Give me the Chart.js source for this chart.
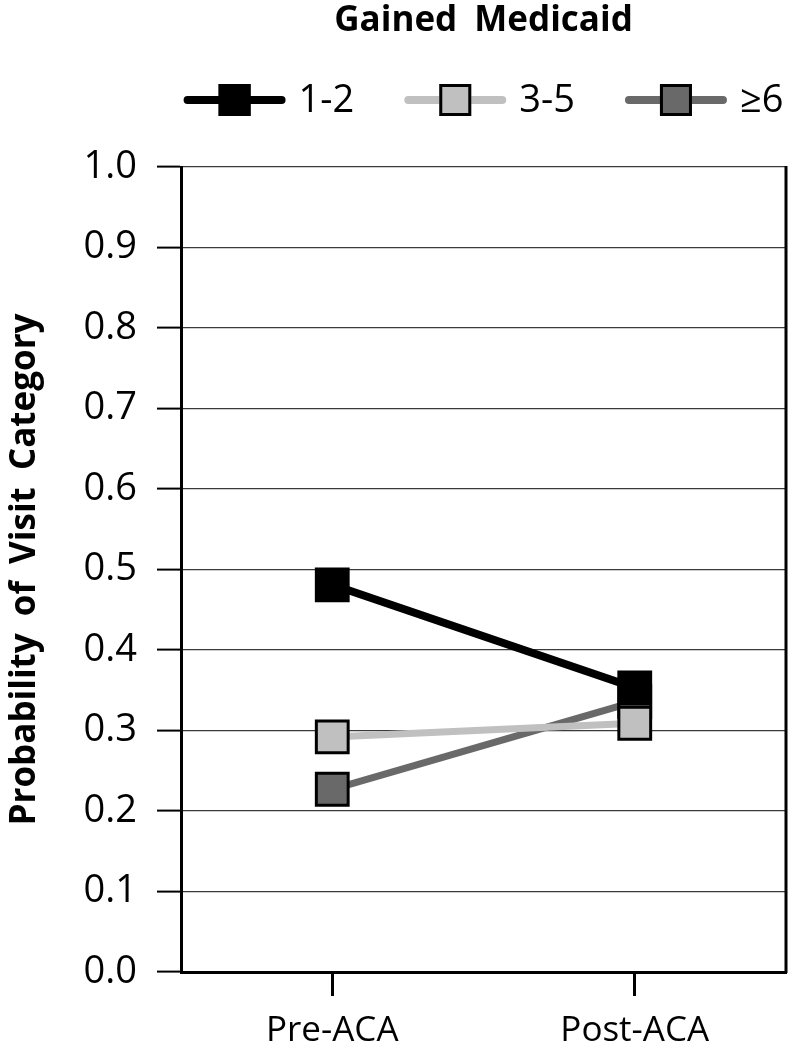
<!DOCTYPE html>
<html>
<head>
<meta charset="utf-8">
<script src="https://cdn.jsdelivr.net/npm/chart.js@4.4.1/dist/chart.umd.min.js"></script>
<style>
html,body{margin:0;padding:0;background:#fff;}
#wrap{width:792px;height:1056px;position:relative;}
</style>
</head>
<body>
<div id="wrap"><canvas id="c" width="792" height="1056"></canvas></div>
<script>
const categories = ['Pre-ACA', 'Post-ACA'];
const seriesNames = ['1-2', '3-5', '\u22656'];
const visits12 = [0.481, 0.353];
const visits35 = [0.292, 0.309];
const visits6plus = [0.227, 0.336];
const yTicks = [0.0, 0.1, 0.2, 0.3, 0.4, 0.5, 0.6, 0.7, 0.8, 0.9, 1.0];

const FONT = "'Open Sans', 'DejaVu Sans', sans-serif";
const lineColors = ['#000000', '#c0c0c0', '#696969'];
const fillColors = ['#000000', '#c0c0c0', '#696969'];

const seriesData = [visits12, visits35, visits6plus];
const datasets = seriesData.map((d, i) => ({
  label: seriesNames[i],
  data: d,
  borderColor: lineColors[i],
  borderWidth: i === 0 ? 8 : 7,
  backgroundColor: fillColors[i],
  pointStyle: 'rect',
  pointRadius: 22.5,
  pointHoverRadius: 22.5,
  pointBackgroundColor: fillColors[i],
  pointBorderColor: '#000',
  pointBorderWidth: 3,
  tension: 0,
  fill: false
}));

const spacing = {
  id: 'spacing',
  beforeDraw(chart) { try { chart.ctx.wordSpacing = '8px'; } catch (e) {} },
  beforeDatasetsDraw(chart) { try { chart.ctx.wordSpacing = '0px'; } catch (e) {} }
};

const rightBorder = {
  id: 'rightBorder',
  afterDraw(chart) {
    const {ctx, chartArea: a} = chart;
    ctx.save();
    ctx.strokeStyle = '#000'; ctx.lineWidth = 3;
    ctx.beginPath(); ctx.moveTo(a.right, a.top - 1); ctx.lineTo(a.right, a.bottom + 1); ctx.stroke();
    ctx.restore();
  }
};

const lineLegend = {
  id: 'lineLegend',
  afterDraw(chart) {
    const {ctx, chartArea: a} = chart;
    const ds = chart.data.datasets;
    const swW = 102, gapText = 13, gapItem = 50, yc = 100;
    ctx.save();
    ctx.font = '38px ' + FONT;
    const widths = ds.map(d => ctx.measureText(d.label).width);
    let total = 0;
    widths.forEach((w, i) => { total += swW + gapText + w + (i < ds.length - 1 ? gapItem : 0); });
    let x = (a.left + a.right) / 2 - total / 2;
    ds.forEach((d, i) => {
      ctx.strokeStyle = d.borderColor; ctx.lineWidth = 8; ctx.lineCap = 'round';
      ctx.beginPath(); ctx.moveTo(x + 4, yc); ctx.lineTo(x + swW - 4, yc); ctx.stroke();
      const cx = x + swW / 2;
      ctx.fillStyle = d.pointBackgroundColor; ctx.fillRect(cx - 16, yc - 16, 32, 32);
      ctx.strokeStyle = '#000'; ctx.lineWidth = 3; ctx.lineCap = 'butt';
      ctx.strokeRect(cx - 14.5, yc - 14.5, 29, 29);
      ctx.fillStyle = '#000'; ctx.textBaseline = 'middle'; ctx.textAlign = 'left';
      ctx.fillText(d.label, x + swW + gapText, yc + 1);
      x += swW + gapText + widths[i] + gapItem;
    });
    ctx.restore();
  }
};

new Chart(document.getElementById('c'), {
  type: 'line',
  data: { labels: categories, datasets },
  plugins: [spacing, rightBorder, lineLegend],
  options: {
    responsive: false,
    animation: false,
    devicePixelRatio: 1,
    layout: { autoPadding: false, padding: { left: 4, right: 6, top: 0, bottom: 0 } },
    plugins: {
      tooltip: { enabled: false },
      legend: { display: false },
      title: {
        display: true,
        text: 'Gained Medicaid',
        fullSize: false,
        color: '#000',
        font: { family: FONT, size: 35, weight: 'bold', lineHeight: 1.2 },
        padding: { top: 0, bottom: 125 }
      }
    },
    scales: {
      x: {
        type: 'category',
        offset: true,
        grid: {
          display: true,
          drawOnChartArea: false,
          drawTicks: true,
          tickLength: 24,
          tickColor: '#000',
          tickWidth: 3,
          offset: false
        },
        border: { display: true, color: '#000', width: 3 },
        ticks: { color: '#000', font: { family: FONT, size: 35 }, padding: 14 },
        afterFit(scale) { scale.height = 84; scale.paddingLeft = 0; scale.paddingRight = 0; }
      },
      y: {
        min: 0,
        max: 1,
        afterBuildTicks(scale) { scale.ticks = yTicks.map(v => ({ value: v })); },
        ticks: {
          color: '#000',
          font: { family: FONT, size: 38 },
          padding: 20,
          callback: (v) => Number(v).toFixed(1)
        },
        grid: {
          color: '#3a3a3a',
          lineWidth: 1.2,
          tickLength: 24,
          tickColor: '#000',
          tickWidth: 2
        },
        border: { display: true, color: '#000', width: 3 },
        title: {
          display: true,
          text: 'Probability of Visit Category',
          color: '#000',
          font: { family: FONT, size: 35, weight: 'bold' },
          padding: { top: 0, bottom: 0 }
        },
        afterFit(scale) { scale.width = 177; scale.paddingTop = 0; scale.paddingBottom = 0; }
      }
    }
  }
});
</script>
</body>
</html>
